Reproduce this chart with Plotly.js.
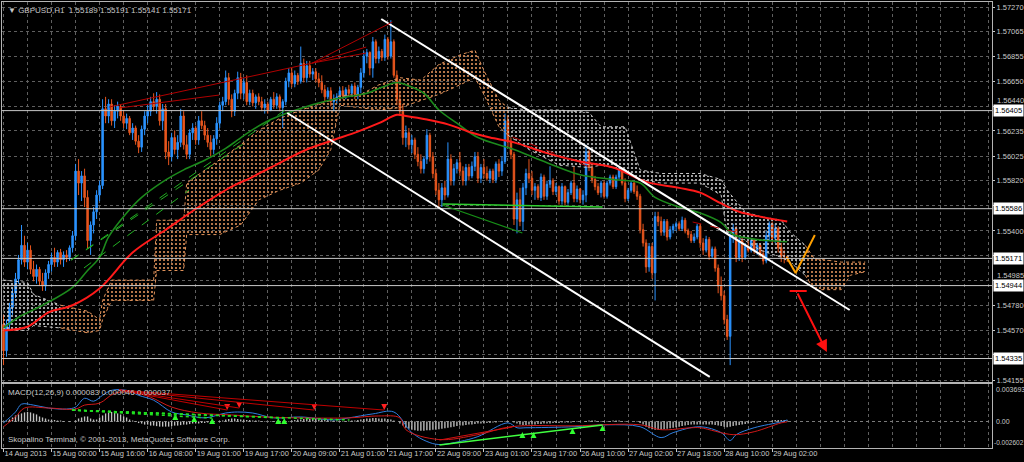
<!DOCTYPE html>
<html><head><meta charset="utf-8">
<script src="https://cdn.plot.ly/plotly-3.0.1.min.js"></script>
<style>html,body{margin:0;padding:0;background:#000;}#chart{width:1024px;height:462px;}</style>
</head><body><div id="chart"></div>
<script>
// ---------- text ----------
const headerText = "\u25BC GBPUSD,H1  1.55189 1.55191 1.55141 1.55171";
const macdTitle = "MACD(12,26,9) 0.000083 0.000046 0.000037";
const footerText = "Skopalino Terminal, \u00A9 2001-2013, MetaQuotes Software Corp.";

// ---------- time axis (bar index -> label) ----------
const tickBars = [0,16,32,48,64,80,96,112,128,144,160,176,192,208,224,240,256];
const tickLabels = ["14 Aug 2013","15 Aug 00:00","15 Aug 16:00","16 Aug 08:00","19 Aug 01:00","19 Aug 17:00","20 Aug 09:00","21 Aug 01:00","21 Aug 17:00","22 Aug 09:00","23 Aug 01:00","23 Aug 17:00","26 Aug 10:00","27 Aug 02:00","27 Aug 18:00","28 Aug 10:00","29 Aug 02:00"];
const gridBars = [0,8,16,24,32,40,48,56,64,72,80,88,96,104,112,120,128,136,144,152,160,168,176,184,192,200,208,216,224,232,240,248,256,264,272,280,288,296,304,312,320,328];

// ---------- price axis ----------
const priceTicks = [1.57270,1.57065,1.56855,1.56650,1.56440,1.56235,1.56025,1.55820,1.55610,1.55400,1.55195,1.54985,1.54780,1.54570,1.54365,1.54155];
const priceTickLabels = ["1.57270","1.57065","1.56855","1.56650","","1.56235","1.56025","1.55820","","1.55400","","","1.54780","1.54570","","1.54155"];
const crowdedTicks = [1.56440,1.54985];            // tick labels squeezed by the level boxes
const crowdedTickLabels = ["1.56440","1.54985"];
const levelLines = [1.56405,1.55586,1.55171,1.54944,1.54335];
const levelLabels = ["1.56405","1.55586","1.55171","1.54944","1.54335"];
const macdTop = 0.003693, macdBottom = -0.002602;

// ---------- candles (H1) ----------
const open = [1.5462,1.5440,1.5462,1.5476,1.5488,1.5500,1.5516,1.5528,1.5514,1.5524,1.5508,1.5502,1.5508,1.5498,1.5494,1.5505,1.5512,1.5518,1.5514,1.5522,1.5516,1.5520,1.5518,1.5526,1.5536,1.5590,1.5580,1.5586,1.5568,1.5532,
1.5545,1.5556,1.5570,1.5578,1.5642,1.5636,1.5646,1.5632,1.5640,1.5644,1.5636,1.5630,1.5634,1.5622,1.5626,1.5615,1.5610,1.5625,1.5636,1.5640,1.5648,1.5644,1.5650,1.5632,1.5642,1.5606,1.5602,1.5618,1.5608,1.5614,
1.5636,1.5612,1.5604,1.5622,1.5626,1.5616,1.5632,1.5628,1.5620,1.5614,1.5608,1.5617,1.5630,1.5645,1.5648,1.5668,1.5650,1.5640,1.5655,1.5668,1.5655,1.5664,1.5648,1.5655,1.5647,1.5652,1.5648,1.5643,1.5646,1.5641,
1.5650,1.5645,1.5652,1.5643,1.5648,1.5665,1.5672,1.5663,1.5670,1.5665,1.5680,1.5668,1.5678,1.5671,1.5673,1.5667,1.5664,1.5658,1.5652,1.5657,1.5648,1.5650,1.5652,1.5657,1.5653,1.5658,1.5655,1.5661,1.5654,1.5660,
1.5672,1.5686,1.5689,1.5676,1.5698,1.5684,1.5690,1.5685,1.5700,1.5686,1.5698,1.5670,1.5650,1.5640,1.5618,1.5622,1.5612,1.5616,1.5604,1.5598,1.5592,1.5600,1.5620,1.5602,1.5588,1.5574,1.5566,1.5576,1.5570,1.5600,
1.5582,1.5592,1.5597,1.5590,1.5582,1.5593,1.5586,1.5594,1.5602,1.5584,1.5593,1.5588,1.5584,1.5590,1.5583,1.5596,1.5590,1.5598,1.5632,1.5615,1.5604,1.5550,1.5566,1.5548,1.5576,1.5588,1.5584,1.5574,1.5577,1.5568,
1.5585,1.5569,1.5579,1.5582,1.5573,1.5577,1.5565,1.5577,1.5564,1.5572,1.5580,1.5567,1.5575,1.5566,1.5570,1.5606,1.5593,1.5583,1.5577,1.5572,1.5580,1.5569,1.5580,1.5585,1.5577,1.5585,1.5591,1.5580,1.5567,1.5574,
1.5580,1.5573,1.5569,1.5541,1.5530,1.5510,1.5527,1.5505,1.5552,1.5548,1.5539,1.5548,1.5535,1.5541,1.5544,1.5546,1.5542,1.5549,1.5540,1.5537,1.5532,1.5535,1.5544,1.5530,1.5524,1.5533,1.5519,1.5525,1.5509,1.5494,
1.5486,1.5466,1.5452,1.5536,1.5542,1.5518,1.5532,1.5518,1.5527,1.5524,1.5532,1.5524,1.5528,1.5521,1.5515,1.5536,1.5546,1.5534,1.5542,1.5526,1.5519,1.55189];
const high = [1.5470,1.5466,1.5480,1.5492,1.5505,1.5520,1.5545,1.5536,1.5530,1.5528,1.5515,1.5512,1.5510,1.5505,1.5508,1.5515,1.5522,1.5526,1.5524,1.5525,1.5523,1.5524,1.5528,1.5540,1.5596,1.5600,1.5590,1.5592,1.5574,1.5548,
1.5560,1.5574,1.5582,1.5650,1.5652,1.5650,1.5650,1.5645,1.5648,1.5646,1.5640,1.5638,1.5636,1.5630,1.5628,1.5620,1.5628,1.5640,1.5645,1.5652,1.5655,1.5656,1.5654,1.5646,1.5646,1.5615,1.5622,1.5624,1.5620,1.5642,
1.5640,1.5620,1.5625,1.5630,1.5628,1.5636,1.5640,1.5632,1.5626,1.5620,1.5620,1.5635,1.5648,1.5652,1.5674,1.5672,1.5654,1.5658,1.5673,1.5672,1.5668,1.5670,1.5658,1.5658,1.5654,1.5655,1.5652,1.5650,1.5648,1.5652,
1.5656,1.5655,1.5654,1.5650,1.5668,1.5676,1.5676,1.5674,1.5672,1.5694,1.5684,1.5682,1.5682,1.5676,1.5676,1.5672,1.5670,1.5662,1.5660,1.5660,1.5654,1.5655,1.5660,1.5661,1.5660,1.5662,1.5663,1.5664,1.5662,1.5676,
1.5690,1.5692,1.5690,1.5702,1.5700,1.5694,1.5692,1.5704,1.5702,1.5716,1.5700,1.5674,1.5656,1.5646,1.5628,1.5626,1.5620,1.5618,1.5610,1.5604,1.5602,1.5625,1.5622,1.5606,1.5592,1.5580,1.5580,1.5582,1.5614,1.5604,
1.5596,1.5600,1.5606,1.5594,1.5596,1.5596,1.5598,1.5606,1.5606,1.5596,1.5600,1.5594,1.5592,1.5592,1.5598,1.5600,1.5602,1.5638,1.5636,1.5618,1.5606,1.5572,1.5576,1.5580,1.5592,1.5600,1.5590,1.5580,1.5579,1.5588,
1.5587,1.5582,1.5594,1.5584,1.5580,1.5578,1.5580,1.5578,1.5575,1.5582,1.5594,1.5578,1.5576,1.5574,1.5612,1.5608,1.5596,1.5586,1.5580,1.5582,1.5582,1.5582,1.5587,1.5587,1.5587,1.5594,1.5593,1.5584,1.5576,1.5582,
1.5581,1.5578,1.5571,1.5546,1.5533,1.5530,1.5530,1.5556,1.5556,1.5552,1.5550,1.5550,1.5544,1.5546,1.5548,1.5548,1.5552,1.5551,1.5542,1.5540,1.5538,1.5546,1.5546,1.5534,1.5536,1.5535,1.5527,1.5527,1.5512,1.5502,
1.5490,1.5470,1.5540,1.5546,1.5544,1.5536,1.5535,1.5530,1.5532,1.5534,1.5533,1.5530,1.5530,1.5524,1.5540,1.5548,1.5548,1.5546,1.5544,1.5530,1.5524,1.55191];
const low = [1.5428,1.5435,1.5458,1.5470,1.5484,1.5496,1.5512,1.5510,1.5508,1.5504,1.5498,1.5496,1.5494,1.5490,1.5490,1.5500,1.5506,1.5510,1.5510,1.5512,1.5510,1.5514,1.5515,1.5522,1.5532,1.5570,1.5565,1.5560,1.5525,1.5520,
1.5538,1.5550,1.5565,1.5575,1.5630,1.5630,1.5628,1.5626,1.5634,1.5632,1.5626,1.5625,1.5620,1.5616,1.5612,1.5605,1.5606,1.5620,1.5630,1.5636,1.5640,1.5638,1.5628,1.5624,1.5600,1.5595,1.5598,1.5604,1.5600,1.5610,
1.5608,1.5600,1.5600,1.5616,1.5612,1.5612,1.5625,1.5616,1.5610,1.5602,1.5604,1.5612,1.5626,1.5640,1.5645,1.5645,1.5635,1.5636,1.5650,1.5650,1.5650,1.5645,1.5645,1.5644,1.5642,1.5645,1.5640,1.5638,1.5638,1.5640,
1.5642,1.5642,1.5640,1.5626,1.5645,1.5660,1.5660,1.5660,1.5662,1.5663,1.5664,1.5664,1.5668,1.5666,1.5664,1.5660,1.5655,1.5648,1.5650,1.5644,1.5640,1.5646,1.5648,1.5650,1.5650,1.5652,1.5652,1.5650,1.5650,1.5655,
1.5668,1.5680,1.5670,1.5668,1.5680,1.5680,1.5682,1.5682,1.5683,1.5684,1.5668,1.5645,1.5636,1.5612,1.5610,1.5608,1.5605,1.5600,1.5594,1.5588,1.5588,1.5596,1.5598,1.5584,1.5570,1.5560,1.5560,1.5566,1.5568,1.5578,
1.5578,1.5588,1.5586,1.5578,1.5578,1.5582,1.5584,1.5590,1.5580,1.5580,1.5584,1.5582,1.5580,1.5580,1.5580,1.5585,1.5586,1.5596,1.5610,1.5600,1.5545,1.5538,1.5544,1.5540,1.5570,1.5580,1.5570,1.5566,1.5566,1.5565,
1.5566,1.5566,1.5576,1.5570,1.5570,1.5562,1.5562,1.5561,1.5562,1.5570,1.5564,1.5564,1.5563,1.5562,1.5564,1.5590,1.5580,1.5574,1.5570,1.5568,1.5567,1.5567,1.5578,1.5575,1.5575,1.5583,1.5578,1.5564,1.5565,1.5572,
1.5571,1.5566,1.5538,1.5527,1.5505,1.5506,1.5500,1.5482,1.5544,1.5536,1.5536,1.5532,1.5533,1.5538,1.5540,1.5540,1.5540,1.5538,1.5534,1.5530,1.5530,1.5533,1.5526,1.5520,1.5522,1.5516,1.5517,1.5506,1.5488,1.5482,
1.5462,1.5449,1.5428,1.5530,1.5514,1.5515,1.5514,1.5516,1.5522,1.5522,1.5521,1.5520,1.5518,1.5512,1.5513,1.5532,1.5530,1.5530,1.5522,1.5514,1.5513,1.55141];
const close = [1.5440,1.5462,1.5476,1.5488,1.5500,1.5516,1.5528,1.5514,1.5524,1.5508,1.5502,1.5508,1.5498,1.5494,1.5505,1.5512,1.5518,1.5514,1.5522,1.5516,1.5520,1.5518,1.5526,1.5536,1.5590,1.5580,1.5586,1.5568,1.5532,1.5545,
1.5556,1.5570,1.5578,1.5642,1.5636,1.5646,1.5632,1.5640,1.5644,1.5636,1.5630,1.5634,1.5622,1.5626,1.5615,1.5610,1.5625,1.5636,1.5640,1.5648,1.5644,1.5650,1.5632,1.5642,1.5606,1.5602,1.5618,1.5608,1.5614,1.5636,
1.5612,1.5604,1.5622,1.5626,1.5616,1.5632,1.5628,1.5620,1.5614,1.5608,1.5617,1.5630,1.5645,1.5648,1.5668,1.5650,1.5640,1.5655,1.5668,1.5655,1.5664,1.5648,1.5655,1.5647,1.5652,1.5648,1.5643,1.5646,1.5641,1.5650,
1.5645,1.5652,1.5643,1.5648,1.5665,1.5672,1.5663,1.5670,1.5665,1.5680,1.5668,1.5678,1.5671,1.5673,1.5667,1.5664,1.5658,1.5652,1.5657,1.5648,1.5650,1.5652,1.5657,1.5653,1.5658,1.5655,1.5661,1.5654,1.5660,1.5672,
1.5686,1.5689,1.5676,1.5698,1.5684,1.5690,1.5685,1.5700,1.5686,1.5698,1.5670,1.5650,1.5640,1.5618,1.5622,1.5612,1.5616,1.5604,1.5598,1.5592,1.5600,1.5620,1.5602,1.5588,1.5574,1.5566,1.5576,1.5570,1.5600,1.5582,
1.5592,1.5597,1.5590,1.5582,1.5593,1.5586,1.5594,1.5602,1.5584,1.5593,1.5588,1.5584,1.5590,1.5583,1.5596,1.5590,1.5598,1.5632,1.5615,1.5604,1.5550,1.5566,1.5548,1.5576,1.5588,1.5584,1.5574,1.5577,1.5568,1.5585,
1.5569,1.5579,1.5582,1.5573,1.5577,1.5565,1.5577,1.5564,1.5572,1.5580,1.5567,1.5575,1.5566,1.5570,1.5606,1.5593,1.5583,1.5577,1.5572,1.5580,1.5569,1.5580,1.5585,1.5577,1.5585,1.5591,1.5580,1.5567,1.5574,1.5580,
1.5573,1.5569,1.5541,1.5530,1.5510,1.5527,1.5505,1.5552,1.5548,1.5539,1.5548,1.5535,1.5541,1.5544,1.5546,1.5542,1.5549,1.5540,1.5537,1.5532,1.5535,1.5544,1.5530,1.5524,1.5533,1.5519,1.5525,1.5509,1.5494,1.5486,
1.5466,1.5452,1.5536,1.5542,1.5518,1.5532,1.5518,1.5527,1.5524,1.5532,1.5524,1.5528,1.5521,1.5515,1.5536,1.5546,1.5534,1.5542,1.5526,1.5519,1.5519,1.55171];

// ---------- moving averages (read at sample bars) ----------
const maRedBars = [0,8,15,23,32,43,54,65,76,82,89,101,110,118,125,131,134,141,148,156,162,170,181,192,203,214,225,232,239,245,252,261];
const maRed = [1.5457,1.5460,1.5472,1.5478,1.5492,1.5522,1.5541,1.5560,1.5577,1.5584,1.5593,1.5608,1.5616,1.5623,1.5630,1.5637,1.5636,1.5633,1.5629,1.5622,1.5618,1.5614,1.5605,1.5598,1.5593,1.5581,1.5576,1.5572,1.5563,1.5556,1.5552,1.5548];
const maGreenBars = [0,5,13,23,28,32,35,41,46,53,60,67,74,78,82,89,101,112,121,126,131,134,140,145,151,158,170,181,192,203,212,217,225,232,239,243,248,254,261];
const maGreen = [1.5459,1.5468,1.5478,1.5493,1.5507,1.5518,1.5535,1.5555,1.5568,1.5581,1.5591,1.5599,1.5609,1.5616,1.5623,1.5633,1.5644,1.5651,1.5655,1.5660,1.5664,1.5662,1.5655,1.5641,1.5630,1.5618,1.5608,1.5597,1.5587,1.5583,1.5580,1.5568,1.5560,1.5555,1.5547,1.5537,1.5534,1.5532,1.5531];

// ---------- Ichimoku cloud ----------
const cloudBars = [0,8,10,19,28,32,33,36,50,51,60,61,65,72,79,85,92,99,105,109,112,119,125,132,139,145,152,157,160,165,168,175,185,195,199,207,212,219,232,239,241,247,252,259,262,267,270,279,282,287];
const cloudUpper = [1.5499,1.5497,1.5487,1.5478,1.5473,1.5466,1.5482,1.5499,1.5499,1.5549,1.5549,1.5580,1.5587,1.5599,1.5612,1.5624,1.5634,1.5641,1.5646,1.5649,1.5653,1.5654,1.5662,1.5668,1.5666,1.5679,1.5687,1.5691,1.5674,1.5649,1.5643,1.5641,1.5641,1.5639,1.5627,1.5627,1.5591,1.5588,1.5588,1.5583,1.5574,1.5556,1.5552,1.5549,1.5539,1.5528,1.5517,1.5514,1.5514,1.5514];
const cloudLower = [1.5457,1.5457,1.5461,1.5459,1.5455,1.5457,1.5466,1.5482,1.5482,1.5507,1.5507,1.5537,1.5537,1.5537,1.5545,1.5566,1.5574,1.5580,1.5591,1.5608,1.5645,1.5643,1.5641,1.5643,1.5649,1.5654,1.5662,1.5668,1.5654,1.5627,1.5620,1.5608,1.5595,1.5593,1.5595,1.5591,1.5583,1.5580,1.5580,1.5570,1.5537,1.5532,1.5524,1.5518,1.5514,1.5503,1.5491,1.5491,1.5503,1.5506];

// ---------- MACD ----------
const macdHist = [0,0.0001,0.0002,0.0004,0.0006,0.0007,0.0008,0.0009,0.00095,0.0009,0.0008,0.0007,0.0005,0.0004,0.0003,0.0002,0.0002,0.00015,0.0001,0.0001,0.00005,0,
-0.00005,0,0.0001,0.0003,0.0004,0.0005,0.0005,0.0003,0.0002,0.0002,0.0004,0.0006,0.0008,0.0009,0.00095,0.0009,0.0008,0.0007,0.0005,0.0004,0.0002,0.0001,-0.00005,
-0.00015,-0.0002,-0.0003,-0.0003,-0.0004,-0.0004,-0.00045,-0.0005,-0.0005,-0.0005,-0.0005,-0.00045,-0.0004,-0.0004,-0.00035,-0.0003,-0.0003,
-0.00025,-0.0002,-0.0002,-0.0002,-0.00015,-0.00015,-0.0001,-0.0001,-0.00005,0,0.00005,0.0001,0.0002,0.00025,0.0003,0.0003,0.00025,
0.0002,0.0002,0.00015,0.00015,0.0001,0.0001,0.0001,0.00005,0.00005,0,-0.00005,-0.00005,-0.0001,-0.0001,-0.00005,0,0.00005,0.0001,
0.00015,0.0002,0.0002,0.00025,0.0003,0.0003,0.0003,0.00025,0.0002,0.0002,0.00015,0.00015,0.0001,0.0001,0.0001,0.00005,0.00005,0.00005,0.00005,
0.0001,0.0001,0.00015,0.0002,0.00025,0.0003,0.0003,0.00035,0.00035,0.0003,0.0003,0.0003,0.00025,0.0002,0.0001,0,
-0.0002,-0.0004,-0.0006,-0.0007,-0.0008,-0.00085,-0.0009,-0.0009,-0.0009,-0.00085,-0.00085,-0.0008,-0.0008,-0.00075,-0.0007,-0.00065,-0.0006,-0.00055,-0.0005,
-0.00045,-0.0004,-0.0004,-0.00035,-0.0003,-0.0003,-0.00025,-0.0002,-0.0002,-0.0002,-0.00015,-0.00015,-0.0001,-0.0001,-0.00005,0,0.00005,0.00005,0,-0.0001,-0.0002,
-0.0003,-0.00035,-0.00035,-0.0003,-0.0003,-0.0003,-0.00025,-0.00025,-0.0002,-0.0002,-0.0002,-0.00015,-0.00015,-0.00015,
-0.0001,-0.0001,-0.0001,-0.0001,-0.00005,-0.00005,0,0,0.00005,0.0001,0.0001,0.0001,0.00005,0.00005,0.00005,
0.00005,0.00005,0.0001,0.0001,0.0001,0.00005,0.00005,0,0,0,-0.00005,-0.00015,
-0.0003,-0.0005,-0.00065,-0.00075,-0.0008,-0.0008,-0.0008,-0.00075,-0.0007,-0.00065,-0.0006,-0.00055,-0.0005,
-0.00045,-0.0004,-0.00035,-0.0003,-0.0003,-0.0003,-0.0003,-0.0003,-0.0003,-0.0003,-0.0003,-0.00035,-0.0004,-0.00045,
-0.0005,-0.00055,-0.0005,-0.00045,-0.0004,-0.00035,-0.0003,-0.00025,-0.0002,-0.00015,-0.0001,
-0.0001,-0.00005,0,0,0.00005,0.0001,0.00015,0.00015,0.00015,0.00015,0.0001];
const macdBlueBars = [0,4,6,10,15,21,24,27,30,33,36,41,45,50,56,61,67,74,78,83,90,99,110,115,123,130,136,141,145,152,158,168,171,174,190,201,212,219,223,232,239,242,244,250,259,261];
const macdBlue = [-0.00013,0.00094,0.00171,0.00162,0.00133,0.00123,0.00142,0.00229,0.00200,0.00258,0.00307,0.00307,0.00258,0.00210,0.00094,0.00065,0.00036,0.00084,0.00094,0.00084,0.00036,0.00045,0.00016,0.00036,0.00075,0.00094,-0.00109,-0.00196,-0.00226,-0.00196,-0.00148,-0.00013,-0.00061,-0.00061,-0.00051,-0.00032,-0.00051,-0.00158,-0.00109,-0.00051,-0.00109,-0.00187,-0.00129,-0.00061,-0.00003,0.00016];
const macdRedBars = [0,4,7,15,24,27,32,37,43,49,56,65,76,87,99,115,125,132,134,145,158,169,190,212,219,229,232,243,250,259,261];
const macdRed = [-0.00051,0.00045,0.00133,0.00133,0.00123,0.00162,0.00181,0.00278,0.00287,0.00239,0.00142,0.00084,0.00065,0.00045,0.00036,0.00036,0.00055,0.00036,-0.00080,-0.00177,-0.00129,-0.00051,-0.00042,-0.00032,-0.00080,-0.00061,-0.00061,-0.00129,-0.00100,-0.00013,-0.00003];
const macdUpArrowBars = [57.2,63.5,69.5,91.5,93.5,172.8,176.5,189.5,199.5];
const macdUpArrowVals = [0.00074,0.00054,0.00034,0.00034,0.00034,-0.00103,-0.00103,-0.00064,-0.00034];
const macdDownArrowBars = [74.5,78.5,103.5,126.8];
const macdDownArrowVals = [0.00113,0.00133,0.00113,0.00113];

// ---------- hand-drawn objects [bar0, value0, bar1, value1] ----------
const channelLines = [[125.8,1.57170,281.8,1.54740],[94.5,1.56385,235.2,1.54181]];
const redTrendLines = [[35.2,1.56435,102.8,1.56802],[38.5,1.56427,71.8,1.56535],[102.8,1.56802,129.5,1.57145],[102.8,1.56802,120.8,1.56936],[102.8,1.56802,120.8,1.56886]];
const greenDashLines = [[22.5,1.55157,95.2,1.56435],[22.5,1.55157,81.8,1.56159],[26.8,1.55091,61.8,1.55742]];
const greenSupport = [146.2,1.55625,199.5,1.55600];
const darkGreenLine = [146.2,1.55617,172.8,1.55383];
const redDashLines = [[169.5,1.56185,195.2,1.55934],[229.5,1.55475,246.8,1.55375]];
const orangeVBars = [260.8,263.8,270.2];
const orangeVPrices = [1.55183,1.55049,1.55366];
const redTBar = [261.8,1.54899,267.5,1.54899];
const redArrow = [264.2,1.54890,274.2,1.54389];
const macdGreenDash = [[22.8,0.00113,57.2,0.00074],[22.8,0.00113,69.5,0.00034],[22.8,0.00113,93.5,0.00034],[22.8,0.00113,115.2,0.00015]];
const macdRedLines = [[38.5,0.00310,74.5,0.00113],[38.5,0.00310,78.5,0.00133],[38.5,0.00310,103.5,0.00113],[38.5,0.00310,126.8,0.00113]];
const macdLimeLine = [145.2,-0.00231,199.5,-0.00034];
const macdRedLine2 = [145.2,-0.00182,169.5,-0.00054];

// ================= build =================
const FONT = '"Liberation Sans", Arial, sans-serif';
const TXT = '#c8c8c8';
const GRID = '#5f5f5f';
const FRAME = '#b4b4b4';
const BULL = '#2b93ff';
const BEAR = '#e8561e';
const bars = close.map((_, i) => i);

const traces = [];
// cloud segments: [startIdx, endIdx, color]
const cloudSegs = [[0,3,'#d0d0d0'],[3,30,'#e0925a'],[30,45,'#c8c8c8'],[45,49,'#e0925a']];
cloudSegs.forEach(([a,b,col]) => {
  const xs = cloudBars.slice(a,b+1);
  traces.push({type:'scatter', mode:'lines', x:xs, y:cloudLower.slice(a,b+1), xaxis:'x2', yaxis:'y',
    line:{color:col, width:1, dash:'dot'}, hoverinfo:'skip'});
  traces.push({type:'scatter', mode:'lines', x:xs, y:cloudUpper.slice(a,b+1), xaxis:'x2', yaxis:'y',
    line:{color:col, width:1, dash:'dot'}, fill:'tonexty', fillcolor:'rgba(0,0,0,0)',
    fillpattern:{shape:'.', fgcolor:col, bgcolor:'rgba(0,0,0,0)', size:4, solidity:0.22}, hoverinfo:'skip'});
});
// candles
traces.push({type:'candlestick', x:bars, open:open, high:high, low:low, close:close, xaxis:'x2', yaxis:'y',
  increasing:{line:{color:BULL, width:1}, fillcolor:BULL},
  decreasing:{line:{color:BEAR, width:1}, fillcolor:BEAR}, whiskerwidth:0, hoverinfo:'skip'});
// MAs
traces.push({type:'scatter', mode:'lines', x:maGreenBars, y:maGreen, xaxis:'x2', yaxis:'y', line:{color:'#1c8a1c', width:1.6, shape:'spline'}, hoverinfo:'skip'});
traces.push({type:'scatter', mode:'lines', x:maRedBars, y:maRed, xaxis:'x2', yaxis:'y', line:{color:'#ff1a1a', width:2, shape:'spline'}, hoverinfo:'skip'});
// orange V
traces.push({type:'scatter', mode:'lines', x:orangeVBars, y:orangeVPrices, xaxis:'x2', yaxis:'y', line:{color:'#ffa000', width:2}, hoverinfo:'skip'});
// MACD
traces.push({type:'bar', x:bars, y:macdHist, xaxis:'x', yaxis:'y2', marker:{color:'#c0c0c0'}, width:0.45, hoverinfo:'skip'});
traces.push({type:'scatter', mode:'lines', x:macdBlueBars, y:macdBlue, xaxis:'x', yaxis:'y2', line:{color:'#2f7fe0', width:1, shape:'spline'}, hoverinfo:'skip'});
traces.push({type:'scatter', mode:'lines', x:macdRedBars, y:macdRed, xaxis:'x', yaxis:'y2', line:{color:'#d01818', width:1, shape:'spline'}, hoverinfo:'skip'});
traces.push({type:'scatter', mode:'markers', x:macdUpArrowBars, y:macdUpArrowVals, xaxis:'x', yaxis:'y2', marker:{symbol:'arrow-up', size:6, color:'#30ff30'}, hoverinfo:'skip'});
traces.push({type:'scatter', mode:'markers', x:macdDownArrowBars, y:macdDownArrowVals, xaxis:'x', yaxis:'y2', marker:{symbol:'arrow-down', size:6, color:'#ff2020'}, hoverinfo:'skip'});

const shapes = [];
const seg = (s, xr, yr, line) => shapes.push({type:'line', xref:xr, yref:yr, x0:s[0], y0:s[1], x1:s[2], y1:s[3], line:line});
levelLines.forEach(p => shapes.push({type:'line', xref:'paper', yref:'y', x0:0, x1:1, y0:p, y1:p, line:{color:'#c8c8c8', width:1}}));
channelLines.forEach(s => seg(s,'x2','y',{color:'#ffffff', width:2}));
redTrendLines.forEach(s => seg(s,'x2','y',{color:'#b00000', width:1}));
greenDashLines.forEach(s => seg(s,'x2','y',{color:'#22b022', width:1, dash:'dash'}));
seg(greenSupport,'x2','y',{color:'#30d030', width:1.5});
seg(darkGreenLine,'x2','y',{color:'#179017', width:1.2});
redDashLines.forEach(s => seg(s,'x2','y',{color:'#b00000', width:1, dash:'dash'}));
seg(redTBar,'x2','y',{color:'#ff1010', width:2});
macdGreenDash.forEach(s => seg(s,'x','y2',{color:'#20e020', width:1.5, dash:'dot'}));
macdRedLines.forEach(s => seg(s,'x','y2',{color:'#c00000', width:1}));
seg(macdLimeLine,'x','y2',{color:'#40ff40', width:1.5});
seg(macdRedLine2,'x','y2',{color:'#d01010', width:1});

const SMALL = 7.5;
const annotations = [];
crowdedTicks.forEach((p,k) => annotations.push({xref:'paper', x:1, xanchor:'left', xshift:3, yref:'y', y:p, yanchor:'bottom', yshift:-1,
  text:crowdedTickLabels[k], showarrow:false, font:{family:FONT, size:SMALL, color:TXT}}));
levelLines.forEach((p,k) => annotations.push({xref:'paper', x:1, xanchor:'left', xshift:1, yref:'y', y:p, yanchor:'middle',
  text:levelLabels[k], showarrow:false, bgcolor:'#ffffff', borderpad:1, font:{family:FONT, size:SMALL, color:'#000000'}}));
annotations.push({xref:'x2', yref:'y', x:redArrow[2], y:redArrow[3], ax:redArrow[0], ay:redArrow[1], axref:'x2', ayref:'y',
  showarrow:true, arrowcolor:'#ff1010', arrowwidth:2, arrowhead:2, arrowsize:1.2, text:''});
annotations.push({xref:'paper', yref:'paper', x:0, y:1, xanchor:'left', yanchor:'top', xshift:4, yshift:-2,
  text:headerText, showarrow:false, font:{family:FONT, size:8, color:TXT}});
annotations.push({xref:'paper', yref:'y2', x:0, y:macdTop, xanchor:'left', yanchor:'top', xshift:4, yshift:-2,
  text:macdTitle, showarrow:false, font:{family:FONT, size:8, color:TXT}});
annotations.push({xref:'paper', yref:'y2', x:0, y:macdBottom, xanchor:'left', yanchor:'bottom', xshift:4, yshift:2,
  text:footerText, showarrow:false, font:{family:FONT, size:8, color:TXT}});
annotations.push({xref:'paper', yref:'y2', x:1, y:macdTop, xanchor:'left', yanchor:'top', xshift:2,
  text:'0.003693', showarrow:false, font:{family:FONT, size:7, color:TXT}});
annotations.push({xref:'paper', yref:'y2', x:1, y:0, xanchor:'left', yanchor:'middle', xshift:2,
  text:'0.00', showarrow:false, font:{family:FONT, size:7, color:TXT}});
annotations.push({xref:'paper', yref:'y2', x:1, y:macdBottom, xanchor:'left', yanchor:'bottom', xshift:0,
  text:'-0.002602', showarrow:false, font:{family:FONT, size:6.5, color:TXT}});

const xCommon = {range:[-0.5,329.2], zeroline:false, showline:true, mirror:true, linecolor:FRAME, linewidth:1,
  rangeslider:{visible:false}, fixedrange:true, showgrid:true, gridcolor:GRID, griddash:'3px,3px', gridwidth:1,
  minor:{tickmode:'array', tickvals:gridBars, showgrid:true, gridcolor:GRID, griddash:'3px,3px', gridwidth:1, ticks:''}};

const layout = {
  width:1024, height:462, paper_bgcolor:'#000000', plot_bgcolor:'#000000',
  margin:{l:2, r:32, t:2, b:14}, showlegend:false, dragmode:false, hovermode:false,
  font:{family:FONT, size:8, color:TXT},
  xaxis:Object.assign({}, xCommon, {domain:[0,1], anchor:'y2', tickmode:'array', tickvals:tickBars, ticktext:tickLabels,
    ticks:'outside', ticklen:3, tickcolor:TXT, tickangle:0, ticklabelposition:'outside right', ticklabelstandoff:-2,
    tickfont:{family:FONT, size:SMALL, color:TXT}}),
  xaxis2:Object.assign({}, xCommon, {domain:[0,1], anchor:'y', matches:'x', tickmode:'array', tickvals:tickBars, showticklabels:false, ticks:''}),
  yaxis:{domain:[0.148,1], anchor:'x2', side:'right', range:[1.54139,1.57312], tickmode:'array', tickvals:priceTicks, ticktext:priceTickLabels,
    ticks:'outside', ticklen:2, tickcolor:TXT, tickfont:{family:FONT, size:SMALL, color:TXT}, showgrid:true, gridcolor:GRID, griddash:'3px,3px',
    zeroline:false, showline:true, mirror:true, linecolor:FRAME, fixedrange:true},
  yaxis2:{domain:[0,0.1435], anchor:'x', side:'right', range:[macdBottom, macdTop], tickmode:'array', tickvals:[0], ticktext:[''],
    showticklabels:false, ticks:'', showgrid:true, gridcolor:'#7a7a7a', griddash:'3px,3px', zeroline:false,
    showline:true, mirror:true, linecolor:FRAME, fixedrange:true},
  shapes:shapes, annotations:annotations
};

Plotly.newPlot('chart', traces, layout, {displayModeBar:false, staticPlot:true});
</script>
</body></html>
